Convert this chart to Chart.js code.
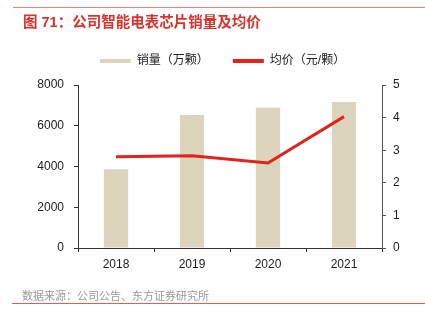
<!DOCTYPE html>
<html>
<head>
<meta charset="utf-8">
<script src="https://cdn.jsdelivr.net/npm/chart.js@4/dist/chart.umd.min.js"></script>
<style>
  html, body { margin: 0; padding: 0; background: #fff; }
  body { width: 425px; height: 326px; position: relative; overflow: hidden;
         font-family: "Liberation Sans", "Noto Sans CJK SC", sans-serif; }
  #wrap { position: absolute; left: 0; top: 0; width: 425px; height: 326px; z-index: 1; }
  #topline { position: absolute; left: 13px; top: 7px; width: 412px; height: 0; border-top: 1px solid #ef7f78; z-index: 5; }
  #title { position: absolute; left: 23px; top: 10px; font-size: 14.5px; font-weight: bold; color: #e0302a;
           font-family: "Liberation Sans", "Noto Sans CJK SC", sans-serif; white-space: nowrap; z-index: 5; }
  #source { position: absolute; left: 22px; top: 287px; font-size: 11px; color: #999;
            font-family: "Noto Sans CJK SC", sans-serif; white-space: nowrap; z-index: 5; }
  #botline { position: absolute; left: 12px; top: 303px; width: 413px; height: 0; border-top: 1px solid #ea5a52; z-index: 5; }
</style>
</head>
<body>
<div id="wrap"><canvas id="c" width="425" height="326"></canvas></div>
<div id="topline"></div>
<div id="title">图 71：公司智能电表芯片销量及均价</div>
<div id="source">数据来源：公司公告、东方证券研究所</div>
<div id="botline"></div>
<script>
const categories = ["2018", "2019", "2020", "2021"];
const salesVolume = [3870, 6530, 6880, 7160];
const avgPrice = [2.80, 2.83, 2.61, 4.03];
const seriesNames = ["销量（万颗）", "均价（元/颗）"];

const FONT = "'Liberation Sans', 'Noto Sans CJK SC', sans-serif";

// add extra space below the legend
(function () {
  const lp = Chart.registry.getPlugin('legend');
  const L = lp && lp._element;
  if (L && L.prototype.fit) {
    const orig = L.prototype.fit;
    L.prototype.fit = function () { orig.call(this); this.height += 8; };
  }
})();

new Chart(document.getElementById("c"), {
  data: {
    labels: categories,
    datasets: [
      {
        type: "bar",
        label: seriesNames[0],
        data: salesVolume,
        yAxisID: "y",
        backgroundColor: "#ddd4bd",
        barPercentage: 0.32,
        categoryPercentage: 1.0,
        order: 1
      },
      {
        type: "line",
        label: seriesNames[1],
        data: avgPrice,
        yAxisID: "y1",
        borderColor: "#e2231a",
        backgroundColor: "#e2231a",
        borderWidth: 3,
        pointRadius: 0,
        tension: 0,
        order: 0
      }
    ]
  },
  options: {
    responsive: false,
    animation: false,
    layout: { padding: { left: 20, right: 0, top: 31, bottom: 0 } },
    plugins: {
      tooltip: { enabled: false },
      legend: {
        display: true,
        position: "top",
        labels: {
          font: { family: FONT, size: 12 },
          color: "#222",
          boxWidth: 31,
          boxHeight: 4,
          padding: 24,
          generateLabels(chart) {
            return chart.data.datasets.map((ds, i) => ({
              text: ds.label,
              fillStyle: ds.type === "line" ? ds.borderColor : ds.backgroundColor,
              strokeStyle: ds.type === "line" ? ds.borderColor : ds.backgroundColor,
              lineWidth: 0,
              hidden: false,
              datasetIndex: i,
              fontColor: "#222"
            }));
          }
        }
      }
    },
    scales: {
      x: {
        offset: true,
        grid: { offset: true, drawOnChartArea: false, drawTicks: true, tickLength: 4, color: "#333" },
        border: { color: "#333", width: 1 },
        ticks: { font: { family: FONT, size: 12 }, color: "#222", padding: 5 },
        afterFit(s) { s.height = 78; }
      },
      y: {
        position: "left",
        min: 0, max: 8000,
        grid: { drawOnChartArea: false, drawTicks: true, tickLength: 4, color: "#333" },
        border: { color: "#333", width: 1 },
        ticks: { stepSize: 2000, font: { family: FONT, size: 12 }, color: "#222", padding: 10,
                 callback: v => String(v) },
        afterFit(s) { s.width = 58; }
      },
      y1: {
        position: "right",
        min: 0, max: 5,
        grid: { drawOnChartArea: false, drawTicks: true, tickLength: 4, color: "#555" },
        border: { color: "#555", width: 1 },
        ticks: { stepSize: 1, font: { family: FONT, size: 12 }, color: "#222", padding: 7,
                 callback: v => String(v) },
        afterFit(s) { s.width = 43; }
      }
    }
  }
});
</script>
</body>
</html>
